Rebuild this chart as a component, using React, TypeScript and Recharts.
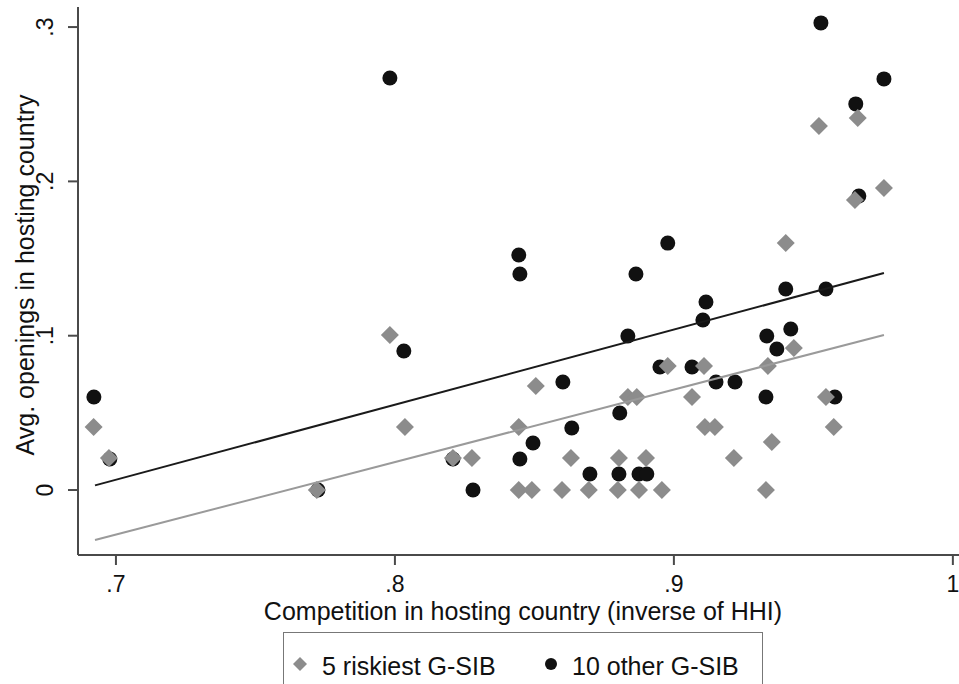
import React from 'react';
import { ScatterChart, Scatter, XAxis, YAxis } from 'recharts';

// 5 riskiest G-SIB
const riskX = [0.692, 0.6975, 0.772, 0.7982, 0.8036, 0.8208, 0.8276, 0.8444, 0.8444, 0.8491, 0.8505, 0.8599, 0.8631, 0.8695, 0.8799, 0.8803, 0.8835, 0.8867, 0.8875, 0.89, 0.8957, 0.8978, 0.9065, 0.9108, 0.9111, 0.9147, 0.9215, 0.933, 0.9337, 0.9351, 0.9401, 0.943, 0.952, 0.9545, 0.9573, 0.9649, 0.9659, 0.9753];
const riskY = [0.0408, 0.0207, 0, 0.1005, 0.0408, 0.0207, 0.0207, 0, 0.0408, 0, 0.0674, 0, 0.0207, 0, 0, 0.0207, 0.0603, 0.0603, 0, 0.0207, 0, 0.0804, 0.0603, 0.0804, 0.0408, 0.0408, 0.0207, 0, 0.0804, 0.0311, 0.1601, 0.092, 0.2359, 0.0603, 0.0408, 0.1879, 0.2411, 0.1957];

// 10 other G-SIB
const otherX = [0.6921, 0.6978, 0.7724, 0.7982, 0.8032, 0.8208, 0.828, 0.8444, 0.8448, 0.8448, 0.8495, 0.8602, 0.8634, 0.8699, 0.8803, 0.8806, 0.8835, 0.8864, 0.8875, 0.8903, 0.895, 0.8978, 0.9065, 0.9104, 0.9115, 0.9151, 0.9219, 0.9333, 0.933, 0.9369, 0.9401, 0.9419, 0.9527, 0.9545, 0.9577, 0.9652, 0.9663, 0.9753];
const otherY = [0.0603, 0.0201, 0, 0.267, 0.0901, 0.0201, 0, 0.1523, 0.14, 0.0201, 0.0305, 0.07, 0.0402, 0.0104, 0.0104, 0.0499, 0.0998, 0.14, 0.0104, 0.0104, 0.0797, 0.16, 0.0797, 0.1102, 0.1218, 0.07, 0.07, 0.0998, 0.0603, 0.0914, 0.1303, 0.1043, 0.3027, 0.1303, 0.0603, 0.2502, 0.1905, 0.2664];

// fitted lines (endpoints)
const fitX = [0.6925, 0.9753];
const fitRiskY = [-0.0324, 0.1005];
const fitOtherY = [0.003, 0.1406];

const seriesNames = ['5 riskiest G-SIB', '10 other G-SIB'];
const xTicks = [0.7, 0.8, 0.9, 1];
const yTicks = [0, 0.1, 0.2, 0.3];

const riskData = riskX.map((x, i) => ({ x, y: riskY[i] }));
const otherData = otherX.map((x, i) => ({ x, y: otherY[i] }));
const fitRisk = fitX.map((x, i) => ({ x, y: fitRiskY[i] }));
const fitOther = fitX.map((x, i) => ({ x, y: fitOtherY[i] }));

const FONT = '"Liberation Sans", Arial, Helvetica, sans-serif';
const GRAY = '#8c8c8c';
const DARK = '#111111';
const AXIS = '#4a4a4a';

const fmt = (v: number) => (v === 0 ? '0' : v === 1 ? '1' : String(v).replace(/^0/, ''));

const Diamond = (props: any) => {
  const { cx, cy } = props;
  const r = 9;
  return <polygon points={`${cx},${cy - r} ${cx + r},${cy} ${cx},${cy + r} ${cx - r},${cy}`} fill={GRAY} />;
};

const Dot = (props: any) => {
  const { cx, cy } = props;
  return <circle cx={cx} cy={cy} r={7.5} fill={DARK} />;
};

const NoShape = () => <g />;

const XTick = (props: any) => {
  const { x, payload } = props;
  return (
    <text x={x} y={592} textAnchor="middle" fontSize={23} fill="#111" fontFamily={FONT}>
      {fmt(payload.value)}
    </text>
  );
};

const YTick = (props: any) => {
  const { y, payload } = props;
  return (
    <text x={53} y={y} transform={`rotate(-90, 53, ${y})`} textAnchor="middle" fontSize={23} fill="#111" fontFamily={FONT}>
      {fmt(payload.value)}
    </text>
  );
};

export default function App() {
  return (
    <div style={{ position: 'absolute', left: 0, top: 0, width: 959, height: 684, background: '#fff', overflow: 'hidden' }}>
      <ScatterChart width={959} height={684} margin={{ top: 7, right: 0, bottom: 69, left: 0 }}>
        <XAxis
          type="number"
          dataKey="x"
          domain={[0.6864, 1.0022]}
          ticks={xTicks}
          allowDataOverflow
          height={60}
          tick={<XTick />}
          tickSize={10}
          axisLine={{ stroke: AXIS, strokeWidth: 2 }}
          tickLine={{ stroke: AXIS, strokeWidth: 2 }}
          label={() => (
            <text x={523} y={620} textAnchor="middle" fontSize={25} fill="#111" fontFamily={FONT}>
              Competition in hosting country (inverse of HHI)
            </text>
          )}
        />
        <XAxis xAxisId="top" type="number" dataKey="x" orientation="top" domain={[0.6864, 1.0022]} height={0} tick={false} tickLine={false} axisLine={{ stroke: AXIS, strokeWidth: 2 }} />
        <YAxis
          type="number"
          dataKey="y"
          domain={[-0.0421, 0.313]}
          ticks={yTicks}
          allowDataOverflow
          width={78}
          tick={<YTick />}
          tickSize={10}
          axisLine={{ stroke: AXIS, strokeWidth: 2 }}
          tickLine={{ stroke: AXIS, strokeWidth: 2 }}
          label={() => (
            <text x={34} y={275} transform="rotate(-90, 34, 275)" textAnchor="middle" fontSize={25} fill="#111" fontFamily={FONT}>
              Avg. openings in hosting country
            </text>
          )}
        />
        <Scatter name={seriesNames[1]} data={otherData} shape={<Dot />} isAnimationActive={false} />
        <Scatter name={seriesNames[0]} data={riskData} shape={<Diamond />} isAnimationActive={false} />
        <Scatter data={fitOther} line={{ stroke: '#1a1a1a', strokeWidth: 2 }} shape={<NoShape />} isAnimationActive={false} />
        <Scatter data={fitRisk} line={{ stroke: '#9a9a9a', strokeWidth: 2 }} shape={<NoShape />} isAnimationActive={false} />
      </ScatterChart>
      <div
        style={{
          position: 'absolute',
          left: 283,
          top: 632,
          width: 478,
          height: 70,
          border: '1.5px solid #777',
        }}
      >
        <svg width={478} height={70} style={{ position: 'absolute', left: 0, top: 0 }}>
          <polygon points="16,24 23,31 16,38 9,31" fill={GRAY} />
          <text x={38} y={42} fontSize={25} fontFamily={FONT} fill="#111">{seriesNames[0]}</text>
          <circle cx={267} cy={31} r={6} fill={DARK} />
          <text x={288} y={42} fontSize={25} fontFamily={FONT} fill="#111">{seriesNames[1]}</text>
        </svg>
      </div>
    </div>
  );
}
